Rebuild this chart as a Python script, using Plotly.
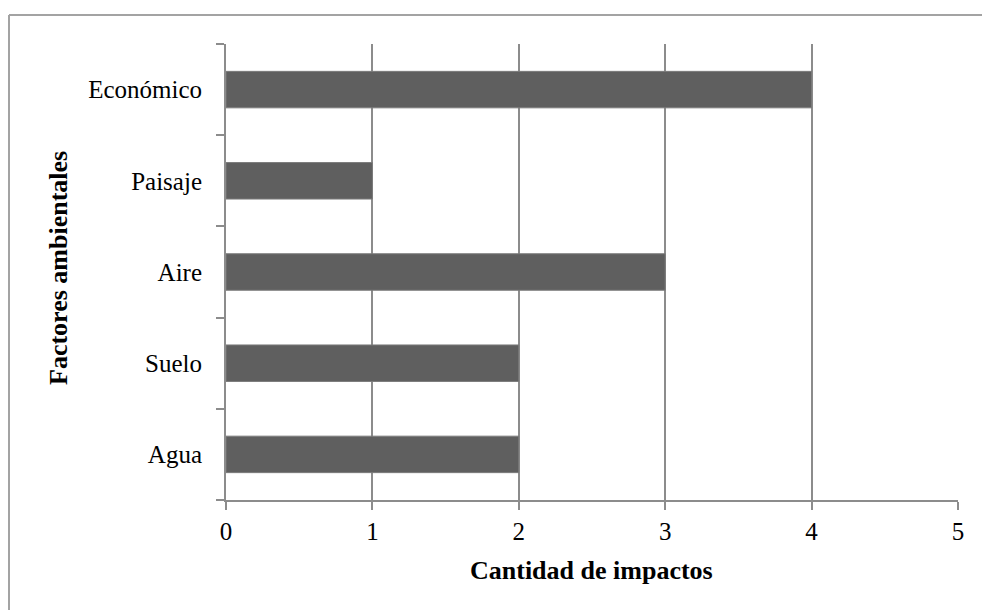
import plotly.graph_objects as go

# Environmental factors (bottom to top) and number of impacts
factores = ["Agua", "Suelo", "Aire", "Paisaje", "Económico"]
impactos = [2, 2, 3, 1, 4]
x_ticks = [0, 1, 2, 3, 4, 5]

W, H = 982, 610
L, R, T, B = 226, 24, 44, 110
pw, ph = W - L - R, H - T - B


def px_to_paper(px, py):
    return (px - L) / pw, (H - B - py) / ph


fig = go.Figure(
    go.Bar(
        x=impactos,
        y=factores,
        orientation="h",
        marker=dict(color="#5f5f5f", line=dict(color="#7c7c7c", width=1)),
        hoverinfo="x+y",
    )
)

font_serif = "Liberation Serif, Times New Roman, serif"
grid_col = "#8c8c8c"
tick_size = 25
title_size = 26

fig.update_layout(
    width=W,
    height=H,
    margin=dict(l=L, r=R, t=T, b=B),
    paper_bgcolor="white",
    plot_bgcolor="white",
    bargap=0.6,
    showlegend=False,
    font=dict(family=font_serif, size=tick_size, color="black"),
    xaxis=dict(
        range=[0, 5],
        tickvals=x_ticks,
        ticktext=[str(v) for v in x_ticks],
        ticks="outside",
        ticklen=8,
        tickwidth=2,
        tickcolor=grid_col,
        showline=True,
        linecolor=grid_col,
        linewidth=2,
        showgrid=True,
        gridcolor=grid_col,
        gridwidth=2,
        zeroline=False,
        tickfont=dict(family=font_serif, size=tick_size, color="black"),
    ),
    yaxis=dict(
        categoryorder="array",
        categoryarray=factores,
        ticks="outside",
        tickson="boundaries",
        ticklen=8,
        tickwidth=2,
        tickcolor=grid_col,
        showline=True,
        linecolor=grid_col,
        linewidth=2,
        showgrid=False,
        zeroline=False,
        ticklabelstandoff=17,
        tickfont=dict(family=font_serif, size=tick_size, color="black"),
    ),
)

# Axis titles
tx, ty = px_to_paper(591, 570)
fig.add_annotation(
    x=tx, y=ty, xref="paper", yref="paper", showarrow=False,
    text="<b>Cantidad de impactos</b>",
    font=dict(family=font_serif, size=title_size, color="black"),
    xanchor="center", yanchor="middle",
)
ax, ay = px_to_paper(58, 268)
fig.add_annotation(
    x=ax, y=ay, xref="paper", yref="paper", showarrow=False,
    text="<b>Factores ambientales</b>", textangle=-90,
    font=dict(family=font_serif, size=title_size, color="black"),
    xanchor="center", yanchor="middle",
)

# Chart-area frame: only its top and left edges fall inside the page
bx0, by1 = px_to_paper(9, 15)
bx1, by0 = px_to_paper(W, H)
frame = dict(type="line", xref="paper", yref="paper",
             line=dict(color="#a3a3a3", width=2), layer="below")
fig.add_shape(x0=bx0, x1=bx1, y0=by1, y1=by1, **frame)
fig.add_shape(x0=bx0, x1=bx0, y0=by0, y1=by1, **frame)

fig.write_html("out.html")
